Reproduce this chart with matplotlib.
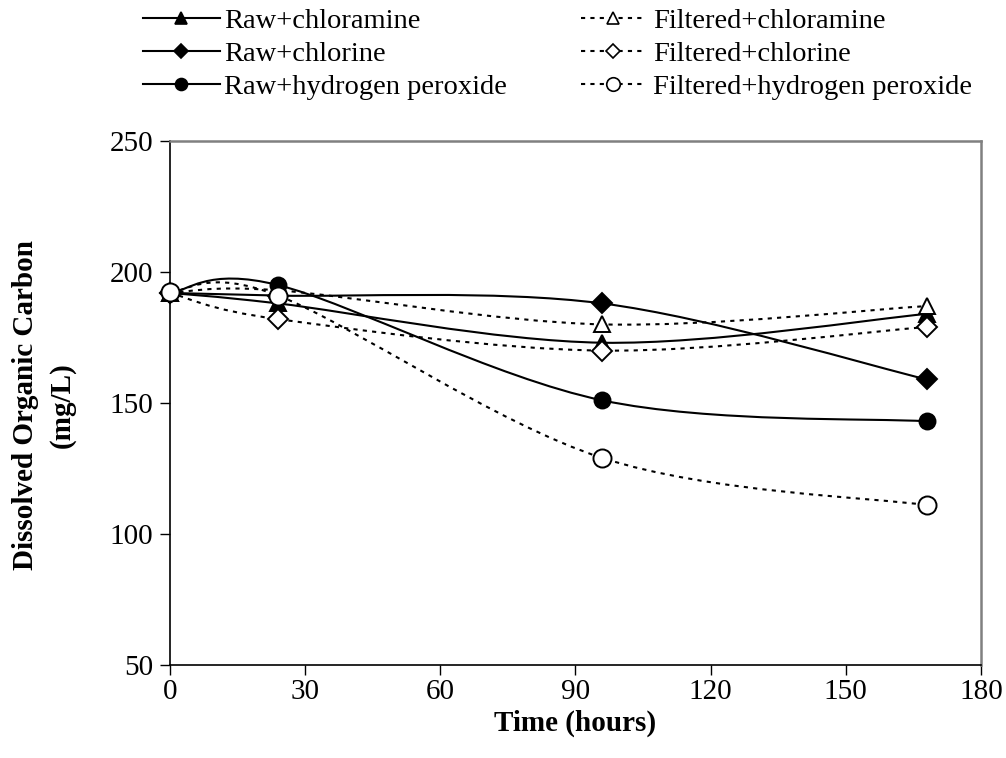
import numpy as np
import matplotlib
matplotlib.use('Agg')
import matplotlib.pyplot as plt
from matplotlib.path import Path
from matplotlib.patches import PathPatch
from matplotlib.lines import Line2D

plt.rcParams['font.family'] = ['Liberation Serif', 'DejaVu Serif']

hours = [0, 24, 96, 168]
raw_chloramine = [192, 188, 173, 184]
filtered_chloramine = [192, 193, 180, 187]
raw_chlorine = [192, 191, 188, 159]
filtered_chlorine = [192, 182, 170, 179]
raw_h2o2 = [192, 195, 151, 143]
filtered_h2o2 = [192.5, 191, 129, 111]

x_ticks = [0, 30, 60, 90, 120, 150, 180]
y_ticks = [50, 100, 150, 200, 250]

DOT = (0, (2, 2.5))


def smooth_path(xs, ys):
    # excel-like smoothed line: cubic bezier segments through the points
    pts = np.column_stack([xs, ys]).astype(float)
    n = len(pts)
    verts = [pts[0]]
    codes = [Path.MOVETO]
    for i in range(n - 1):
        p0 = pts[i - 1] if i > 0 else pts[i]
        p1 = pts[i]
        p2 = pts[i + 1]
        p3 = pts[i + 2] if i + 2 < n else pts[i + 1]
        verts += [p1 + (p2 - p0) / 6, p2 - (p3 - p1) / 6, p2]
        codes += [Path.CURVE4] * 3
    return Path(verts, codes)


series = [
    ("Raw+chloramine", raw_chloramine, '-', '^', 'k', 12),
    ("Filtered+chloramine", filtered_chloramine, DOT, '^', 'white', 12),
    ("Raw+chlorine", raw_chlorine, '-', 'D', 'k', 10),
    ("Filtered+chlorine", filtered_chlorine, DOT, 'D', 'white', 10),
    ("Raw+hydrogen peroxide", raw_h2o2, '-', 'o', 'k', 11.5),
    ("Filtered+hydrogen peroxide", filtered_h2o2, DOT, 'o', 'white', 13),
]

fig = plt.figure(figsize=(10.06, 7.58), dpi=100)
ax = fig.add_axes([0.169, 0.1227, 0.806, 0.6913])

handles = {}
for i, (name, vals, ls, mk, fc, ms) in enumerate(series):
    patch = PathPatch(smooth_path(hours, vals), fill=False, edgecolor='k',
                      lw=1.5, linestyle=ls, capstyle='butt', zorder=2 + i)
    ax.add_patch(patch)
    ax.plot(hours, vals, ls='none', marker=mk, ms=ms, mfc=fc, mec='k',
            mew=1.4, zorder=10 + i, clip_on=False)
    handles[name] = Line2D([], [], color='k', lw=1.5, ls=ls, marker=mk,
                           ms=ms * 0.75, mfc=fc, mec='k', mew=1.2)

ax.set_xlim(0, 180)
ax.set_ylim(50, 250)
ax.set_xticks(x_ticks)
ax.set_yticks(y_ticks)
ax.tick_params(direction='out', length=7, width=1, labelsize=21, pad=5)
ax.tick_params(axis='x', pad=3)
for s in ['left', 'bottom']:
    ax.spines[s].set_linewidth(1.2)
for s in ['top', 'right']:
    ax.spines[s].set_color('#808080')
    ax.spines[s].set_linewidth(1.8)

fig.text(0.044, 0.466, "Dissolved Organic Carbon\n(mg/L)", rotation=90,
         ha='center', va='center', fontsize=21, fontweight='bold',
         linespacing=1.45)
fig.text(0.572, 0.046, "Time (hours)", ha='center', va='center',
         fontsize=21, fontweight='bold')

left_names = ["Raw+chloramine", "Raw+chlorine", "Raw+hydrogen peroxide"]
right_names = ["Filtered+chloramine", "Filtered+chlorine", "Filtered+hydrogen peroxide"]
leg1 = fig.legend([handles[n] for n in left_names], left_names,
                  loc='upper left', bbox_to_anchor=(0.142, 0.99),
                  frameon=False, fontsize=20.5, handlelength=2.7,
                  handletextpad=0.15, labelspacing=0.26, borderpad=0,
                  borderaxespad=0)
leg2 = fig.legend([handles[n] for n in right_names], right_names,
                  loc='upper left', bbox_to_anchor=(0.578, 0.99),
                  frameon=False, fontsize=20.5, handlelength=2.2,
                  handletextpad=0.3, labelspacing=0.26, borderpad=0,
                  borderaxespad=0)

fig.savefig("out.png", dpi=100)
